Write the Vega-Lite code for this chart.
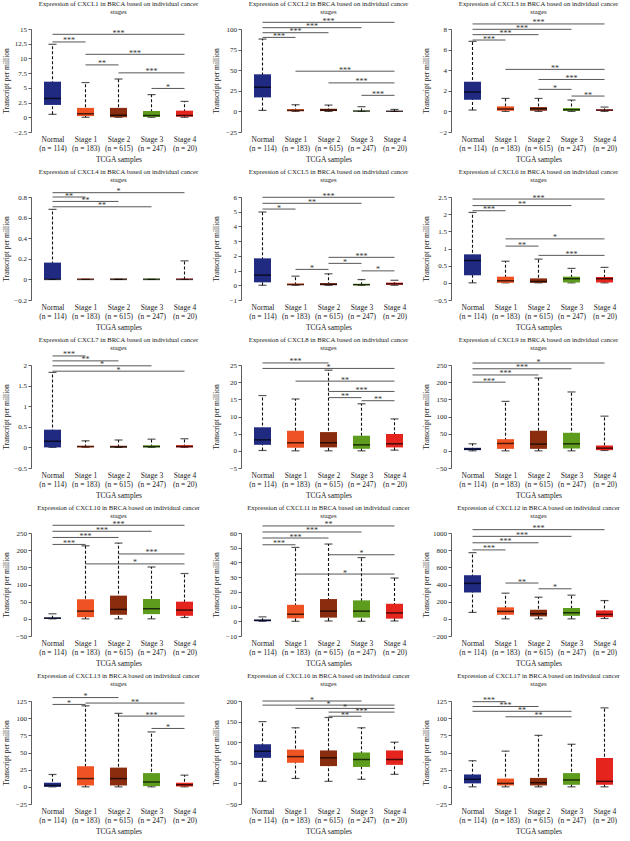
{
"$schema":"https://vega.github.io/schema/vega-lite/v6.json",
"padding":{"left":2,"top":0,"right":0,"bottom":0},
"columns":3,
"spacing":{"row":5,"column":6},
"datasets":{
"box":[
{"g":"CXCL1","s":0,"lo":0.5,"q1":2.1,"md":3.2,"q3":6.05,"hi":12.4},
{"g":"CXCL1","s":1,"lo":0,"q1":0.2,"md":0.6,"q3":1.6,"hi":5.9},
{"g":"CXCL1","s":2,"lo":0,"q1":0,"md":0.35,"q3":1.6,"hi":6.5},
{"g":"CXCL1","s":3,"lo":0,"q1":0.05,"md":0.3,"q3":1.07,"hi":3.85},
{"g":"CXCL1","s":4,"lo":0,"q1":0.1,"md":0.3,"q3":1.13,"hi":2.7},
{"g":"CXCL2","s":0,"lo":1.2,"q1":17,"md":29.3,"q3":45,"hi":87.8},
{"g":"CXCL2","s":1,"lo":0,"q1":0.3,"md":1.2,"q3":2.8,"hi":8.1},
{"g":"CXCL2","s":2,"lo":0,"q1":0.4,"md":1.6,"q3":3.2,"hi":7.7},
{"g":"CXCL2","s":3,"lo":0,"q1":0.1,"md":0.4,"q3":0.9,"hi":5.7},
{"g":"CXCL2","s":4,"lo":0,"q1":0.05,"md":0.2,"q3":0.5,"hi":2.4},
{"g":"CXCL3","s":0,"lo":0.13,"q1":1.13,"md":1.88,"q3":2.88,"hi":6.8},
{"g":"CXCL3","s":1,"lo":0,"q1":0.06,"md":0.23,"q3":0.49,"hi":1.26},
{"g":"CXCL3","s":2,"lo":0,"q1":0.06,"md":0.26,"q3":0.42,"hi":1.26},
{"g":"CXCL3","s":3,"lo":0,"q1":0.05,"md":0.16,"q3":0.32,"hi":1.1},
{"g":"CXCL3","s":4,"lo":0,"q1":0.05,"md":0.13,"q3":0.19,"hi":0.42},
{"g":"CXCL4","s":0,"lo":0,"q1":0,"md":0,"q3":0.163,"hi":0.68},
{"g":"CXCL4","s":1,"lo":0,"q1":0,"md":0,"q3":0.008,"hi":0},
{"g":"CXCL4","s":2,"lo":0,"q1":0,"md":0,"q3":0.008,"hi":0},
{"g":"CXCL4","s":3,"lo":0,"q1":0,"md":0,"q3":0.008,"hi":0},
{"g":"CXCL4","s":4,"lo":0,"q1":0,"md":0,"q3":0.008,"hi":0.18},
{"g":"CXCL5","s":0,"lo":0,"q1":0.2,"md":0.69,"q3":1.83,"hi":4.98},
{"g":"CXCL5","s":1,"lo":0,"q1":0.01,"md":0.05,"q3":0.12,"hi":0.62},
{"g":"CXCL5","s":2,"lo":0,"q1":0.01,"md":0.06,"q3":0.15,"hi":0.78},
{"g":"CXCL5","s":3,"lo":0,"q1":0,"md":0.04,"q3":0.1,"hi":0.39},
{"g":"CXCL5","s":4,"lo":0,"q1":0.03,"md":0.1,"q3":0.18,"hi":0.34},
{"g":"CXCL6","s":0,"lo":0,"q1":0.22,"md":0.65,"q3":0.83,"hi":2.05},
{"g":"CXCL6","s":1,"lo":0,"q1":0,"md":0.06,"q3":0.18,"hi":0.63},
{"g":"CXCL6","s":2,"lo":0,"q1":0,"md":0.04,"q3":0.13,"hi":0.69},
{"g":"CXCL6","s":3,"lo":0,"q1":0.01,"md":0.12,"q3":0.18,"hi":0.42},
{"g":"CXCL6","s":4,"lo":0,"q1":0.01,"md":0.12,"q3":0.17,"hi":0.45},
{"g":"CXCL7","s":0,"lo":0,"q1":0,"md":0.15,"q3":0.43,"hi":1.82},
{"g":"CXCL7","s":1,"lo":0,"q1":0,"md":0.02,"q3":0.04,"hi":0.16},
{"g":"CXCL7","s":2,"lo":0,"q1":0,"md":0.01,"q3":0.04,"hi":0.18},
{"g":"CXCL7","s":3,"lo":0,"q1":0,"md":0.02,"q3":0.05,"hi":0.2},
{"g":"CXCL7","s":4,"lo":0,"q1":0,"md":0.02,"q3":0.055,"hi":0.21},
{"g":"CXCL8","s":0,"lo":0.1,"q1":1.75,"md":3.2,"q3":6.85,"hi":16.1},
{"g":"CXCL8","s":1,"lo":0,"q1":0.9,"md":2.35,"q3":5.85,"hi":15.1},
{"g":"CXCL8","s":2,"lo":0,"q1":1.0,"md":2.35,"q3":5.46,"hi":23.5},
{"g":"CXCL8","s":3,"lo":0,"q1":0.6,"md":1.75,"q3":4.4,"hi":13.7},
{"g":"CXCL8","s":4,"lo":0.2,"q1":1.0,"md":2.05,"q3":4.9,"hi":9.3},
{"g":"CXCL9","s":0,"lo":0,"q1":2,"md":4.9,"q3":8.8,"hi":20.5},
{"g":"CXCL9","s":1,"lo":0,"q1":5.8,"md":21.4,"q3":34,"hi":144},
{"g":"CXCL9","s":2,"lo":0,"q1":5.8,"md":19.5,"q3":58.5,"hi":212},
{"g":"CXCL9","s":3,"lo":0,"q1":6.8,"md":20.5,"q3":52.6,"hi":171.5},
{"g":"CXCL9","s":4,"lo":1,"q1":2,"md":7.8,"q3":15.6,"hi":101},
{"g":"CXCL10","s":0,"lo":0,"q1":0,"md":2,"q3":3.9,"hi":14.7},
{"g":"CXCL10","s":1,"lo":0,"q1":4.9,"md":22.5,"q3":57,"hi":212.7},
{"g":"CXCL10","s":2,"lo":0,"q1":11.8,"md":27.5,"q3":67.6,"hi":220.6},
{"g":"CXCL10","s":3,"lo":0,"q1":13.7,"md":29.4,"q3":57.8,"hi":151},
{"g":"CXCL10","s":4,"lo":3.9,"q1":8.8,"md":25.5,"q3":50,"hi":132},
{"g":"CXCL11","s":0,"lo":0,"q1":0,"md":0.7,"q3":1.1,"hi":3},
{"g":"CXCL11","s":1,"lo":0,"q1":2,"md":4.8,"q3":11.2,"hi":50.2},
{"g":"CXCL11","s":2,"lo":0.2,"q1":2.5,"md":6.9,"q3":15.1,"hi":52.5},
{"g":"CXCL11","s":3,"lo":0,"q1":2.5,"md":6.9,"q3":14.2,"hi":43.3},
{"g":"CXCL11","s":4,"lo":0.2,"q1":1.8,"md":5.7,"q3":11.9,"hi":29.4},
{"g":"CXCL12","s":0,"lo":75,"q1":307,"md":413,"q3":508,"hi":771},
{"g":"CXCL12","s":1,"lo":0,"q1":47,"md":87,"q3":134,"hi":299},
{"g":"CXCL12","s":2,"lo":0,"q1":28,"md":59,"q3":106,"hi":252},
{"g":"CXCL12","s":3,"lo":0,"q1":35,"md":71,"q3":126,"hi":276},
{"g":"CXCL12","s":4,"lo":4,"q1":20,"md":51,"q3":98,"hi":213},
{"g":"CXCL13","s":0,"lo":0,"q1":0,"md":2,"q3":6,"hi":18},
{"g":"CXCL13","s":1,"lo":0,"q1":2,"md":12,"q3":30,"hi":118},
{"g":"CXCL13","s":2,"lo":0,"q1":2,"md":12,"q3":28,"hi":107},
{"g":"CXCL13","s":3,"lo":0,"q1":1,"md":7,"q3":20,"hi":80},
{"g":"CXCL13","s":4,"lo":0,"q1":0.5,"md":3,"q3":6,"hi":17},
{"g":"CXCL16","s":0,"lo":5,"q1":62,"md":78,"q3":95,"hi":150},
{"g":"CXCL16","s":1,"lo":12,"q1":50,"md":65,"q3":82,"hi":135},
{"g":"CXCL16","s":2,"lo":5,"q1":42,"md":62,"q3":80,"hi":160},
{"g":"CXCL16","s":3,"lo":10,"q1":40,"md":58,"q3":75,"hi":135},
{"g":"CXCL16","s":4,"lo":22,"q1":45,"md":58,"q3":80,"hi":100},
{"g":"CXCL17","s":0,"lo":0,"q1":5,"md":11,"q3":18,"hi":38},
{"g":"CXCL17","s":1,"lo":0,"q1":2,"md":5,"q3":12,"hi":52},
{"g":"CXCL17","s":2,"lo":0,"q1":2,"md":6,"q3":13,"hi":75},
{"g":"CXCL17","s":3,"lo":0,"q1":3,"md":10,"q3":20,"hi":62},
{"g":"CXCL17","s":4,"lo":0,"q1":3,"md":8,"q3":42,"hi":115}
],
"br":[
{"g":"CXCL1","a":0,"b":4,"y":14.1,"t":"***"},
{"g":"CXCL1","a":0,"b":1,"y":12.8,"t":"***"},
{"g":"CXCL1","a":1,"b":4,"y":10.7,"t":"***"},
{"g":"CXCL1","a":1,"b":2,"y":8.9,"t":"**"},
{"g":"CXCL1","a":2,"b":4,"y":7.55,"t":"***"},
{"g":"CXCL1","a":3,"b":4,"y":4.9,"t":"*"},
{"g":"CXCL2","a":0,"b":4,"y":108.1,"t":"***"},
{"g":"CXCL2","a":0,"b":3,"y":101.6,"t":"***"},
{"g":"CXCL2","a":0,"b":2,"y":95.5,"t":"***"},
{"g":"CXCL2","a":0,"b":1,"y":89.8,"t":"***"},
{"g":"CXCL2","a":1,"b":4,"y":48.8,"t":"***"},
{"g":"CXCL2","a":2,"b":4,"y":34.6,"t":"***"},
{"g":"CXCL2","a":3,"b":4,"y":19.5,"t":"***"},
{"g":"CXCL3","a":0,"b":4,"y":8.49,"t":"***"},
{"g":"CXCL3","a":0,"b":3,"y":7.97,"t":"***"},
{"g":"CXCL3","a":0,"b":2,"y":7.45,"t":"***"},
{"g":"CXCL3","a":0,"b":1,"y":6.93,"t":"***"},
{"g":"CXCL3","a":1,"b":4,"y":4.08,"t":"**"},
{"g":"CXCL3","a":2,"b":4,"y":3.1,"t":"***"},
{"g":"CXCL3","a":2,"b":3,"y":2.14,"t":"*"},
{"g":"CXCL3","a":3,"b":4,"y":1.49,"t":"**"},
{"g":"CXCL4","a":0,"b":4,"y":0.842,"t":"*"},
{"g":"CXCL4","a":0,"b":1,"y":0.8,"t":"**"},
{"g":"CXCL4","a":0,"b":2,"y":0.757,"t":"**"},
{"g":"CXCL4","a":0,"b":3,"y":0.705,"t":"**"},
{"g":"CXCL5","a":0,"b":4,"y":5.98,"t":"***"},
{"g":"CXCL5","a":0,"b":3,"y":5.57,"t":"**"},
{"g":"CXCL5","a":0,"b":1,"y":5.18,"t":"*"},
{"g":"CXCL5","a":2,"b":4,"y":1.9,"t":"***"},
{"g":"CXCL5","a":2,"b":3,"y":1.49,"t":"*"},
{"g":"CXCL5","a":1,"b":2,"y":1.08,"t":"*"},
{"g":"CXCL5","a":3,"b":4,"y":0.98,"t":"*"},
{"g":"CXCL6","a":0,"b":4,"y":2.44,"t":"***"},
{"g":"CXCL6","a":0,"b":3,"y":2.25,"t":"**"},
{"g":"CXCL6","a":0,"b":1,"y":2.1,"t":"***"},
{"g":"CXCL6","a":1,"b":4,"y":1.28,"t":"*"},
{"g":"CXCL6","a":1,"b":2,"y":1.07,"t":"**"},
{"g":"CXCL6","a":2,"b":4,"y":0.8,"t":"***"},
{"g":"CXCL7","a":0,"b":1,"y":2.22,"t":"***"},
{"g":"CXCL7","a":0,"b":2,"y":2.1,"t":"**"},
{"g":"CXCL7","a":0,"b":3,"y":1.98,"t":"*"},
{"g":"CXCL7","a":0,"b":4,"y":1.85,"t":"*"},
{"g":"CXCL8","a":0,"b":2,"y":25.6,"t":"***"},
{"g":"CXCL8","a":0,"b":4,"y":24.0,"t":"*"},
{"g":"CXCL8","a":1,"b":4,"y":20.3,"t":"**"},
{"g":"CXCL8","a":2,"b":4,"y":17.3,"t":"***"},
{"g":"CXCL8","a":2,"b":3,"y":15.5,"t":"**"},
{"g":"CXCL8","a":3,"b":4,"y":14.6,"t":"**"},
{"g":"CXCL9","a":0,"b":4,"y":255.8,"t":"*"},
{"g":"CXCL9","a":0,"b":3,"y":239,"t":"***"},
{"g":"CXCL9","a":0,"b":2,"y":221,"t":"***"},
{"g":"CXCL9","a":0,"b":1,"y":200,"t":"***"},
{"g":"CXCL10","a":0,"b":4,"y":272.5,"t":"***"},
{"g":"CXCL10","a":0,"b":3,"y":255,"t":"***"},
{"g":"CXCL10","a":0,"b":2,"y":237,"t":"***"},
{"g":"CXCL10","a":0,"b":1,"y":216.7,"t":"***"},
{"g":"CXCL10","a":2,"b":4,"y":189,"t":"***"},
{"g":"CXCL10","a":1,"b":4,"y":160,"t":"*"},
{"g":"CXCL11","a":0,"b":4,"y":64.8,"t":"**"},
{"g":"CXCL11","a":0,"b":3,"y":60.7,"t":"***"},
{"g":"CXCL11","a":0,"b":2,"y":56.6,"t":"***"},
{"g":"CXCL11","a":0,"b":1,"y":52,"t":"***"},
{"g":"CXCL11","a":2,"b":4,"y":45.2,"t":"*"},
{"g":"CXCL11","a":1,"b":4,"y":32.1,"t":"*"},
{"g":"CXCL12","a":0,"b":4,"y":1039,"t":"***"},
{"g":"CXCL12","a":0,"b":3,"y":961,"t":"***"},
{"g":"CXCL12","a":0,"b":2,"y":886,"t":"***"},
{"g":"CXCL12","a":0,"b":1,"y":803,"t":"***"},
{"g":"CXCL12","a":1,"b":2,"y":417,"t":"**"},
{"g":"CXCL12","a":2,"b":3,"y":350,"t":"*"},
{"g":"CXCL13","a":0,"b":2,"y":130,"t":"*"},
{"g":"CXCL13","a":0,"b":1,"y":120,"t":"*"},
{"g":"CXCL13","a":1,"b":4,"y":122,"t":"**"},
{"g":"CXCL13","a":2,"b":4,"y":103,"t":"***"},
{"g":"CXCL13","a":3,"b":4,"y":85,"t":"*"},
{"g":"CXCL16","a":0,"b":3,"y":200,"t":"*"},
{"g":"CXCL16","a":0,"b":4,"y":190,"t":"*"},
{"g":"CXCL16","a":1,"b":4,"y":182,"t":"*"},
{"g":"CXCL16","a":2,"b":4,"y":173,"t":"***"},
{"g":"CXCL16","a":2,"b":3,"y":163,"t":"**"},
{"g":"CXCL17","a":0,"b":1,"y":124,"t":"***"},
{"g":"CXCL17","a":0,"b":2,"y":117,"t":"***"},
{"g":"CXCL17","a":0,"b":3,"y":110,"t":"**"},
{"g":"CXCL17","a":1,"b":3,"y":102,"t":"**"}
]},
"concat":[
{"width":175,"height":117,"title":{"text":["Expression of CXCL1 in BRCA based on individual cancer","stages"]},"layer":[
{"data":{"name":"box"},"transform":[{"filter":"datum.g==='CXCL1'"}],"layer":[
{"mark":{"type":"rule","strokeDash":[3,2],"strokeWidth":1.1,"color":"#111"},"encoding":{"x":{"field":"s","type":"quantitative","scale":{"domain":[-0.5,4.5],"nice":false,"zero":false},"axis":{"values":[0,1,2,3,4],"labelExpr":"[['Normal','(n = 114)'],['Stage 1','(n = 183)'],['Stage 2','(n = 615)'],['Stage 3','(n = 247)'],['Stage 4','(n = 20)']][datum.value]","title":"TCGA samples"}},"y":{"field":"lo","type":"quantitative","scale":{"domain":[-2.5,15],"range":[117,14],"nice":false,"zero":false},"axis":{"values":[-2.5,0,2.5,5,7.5,10,12.5,15],"labelExpr":"format(datum.value,'~g')","labelOverlap":false,"tickCount":20,"title":"Transcript per million"}},"y2":{"field":"hi"}}},
{"mark":{"type":"tick","orient":"horizontal","size":8,"thickness":1.2,"color":"#111"},"encoding":{"x":{"field":"s","type":"quantitative"},"y":{"field":"hi","type":"quantitative"}}},
{"mark":{"type":"tick","orient":"horizontal","size":8,"thickness":1.2,"color":"#111"},"encoding":{"x":{"field":"s","type":"quantitative"},"y":{"field":"lo","type":"quantitative"}}},
{"mark":{"type":"bar","width":17},"encoding":{"x":{"field":"s","type":"quantitative"},"y":{"field":"q1","type":"quantitative"},"y2":{"field":"q3"},"color":{"field":"s","type":"nominal"}}},
{"mark":{"type":"tick","orient":"horizontal","size":17,"thickness":1.5,"color":"#000"},"encoding":{"x":{"field":"s","type":"quantitative"},"y":{"field":"md","type":"quantitative"}}}]},
{"data":{"name":"br"},"transform":[{"filter":"datum.g==='CXCL1'"},{"calculate":"(datum.a+datum.b)/2","as":"m"}],"layer":[
{"mark":{"type":"rule","strokeWidth":0.9,"color":"#444"},"encoding":{"x":{"field":"a","type":"quantitative"},"x2":{"field":"b"},"y":{"field":"y","type":"quantitative"}}},
{"mark":{"type":"text","fontSize":8,"dy":1.5,"baseline":"alphabetic","color":"#333"},"encoding":{"x":{"field":"m","type":"quantitative"},"y":{"field":"y","type":"quantitative"},"text":{"field":"t"}}}]}]},

{"width":175,"height":117,"title":{"text":["Expression of CXCL2 in BRCA based on individual cancer","stages"]},"layer":[
{"data":{"name":"box"},"transform":[{"filter":"datum.g==='CXCL2'"}],"layer":[
{"mark":{"type":"rule","strokeDash":[3,2],"strokeWidth":1.1,"color":"#111"},"encoding":{"x":{"field":"s","type":"quantitative","scale":{"domain":[-0.5,4.5],"nice":false,"zero":false},"axis":{"values":[0,1,2,3,4],"labelExpr":"[['Normal','(n = 114)'],['Stage 1','(n = 183)'],['Stage 2','(n = 615)'],['Stage 3','(n = 247)'],['Stage 4','(n = 20)']][datum.value]","title":"TCGA samples"}},"y":{"field":"lo","type":"quantitative","scale":{"domain":[-25,100],"range":[117,14],"nice":false,"zero":false},"axis":{"values":[-25,0,25,50,75,100],"labelExpr":"format(datum.value,'~g')","labelOverlap":false,"tickCount":20,"title":"Transcript per million"}},"y2":{"field":"hi"}}},
{"mark":{"type":"tick","orient":"horizontal","size":8,"thickness":1.2,"color":"#111"},"encoding":{"x":{"field":"s","type":"quantitative"},"y":{"field":"hi","type":"quantitative"}}},
{"mark":{"type":"tick","orient":"horizontal","size":8,"thickness":1.2,"color":"#111"},"encoding":{"x":{"field":"s","type":"quantitative"},"y":{"field":"lo","type":"quantitative"}}},
{"mark":{"type":"bar","width":17},"encoding":{"x":{"field":"s","type":"quantitative"},"y":{"field":"q1","type":"quantitative"},"y2":{"field":"q3"},"color":{"field":"s","type":"nominal"}}},
{"mark":{"type":"tick","orient":"horizontal","size":17,"thickness":1.5,"color":"#000"},"encoding":{"x":{"field":"s","type":"quantitative"},"y":{"field":"md","type":"quantitative"}}}]},
{"data":{"name":"br"},"transform":[{"filter":"datum.g==='CXCL2'"},{"calculate":"(datum.a+datum.b)/2","as":"m"}],"layer":[
{"mark":{"type":"rule","strokeWidth":0.9,"color":"#444"},"encoding":{"x":{"field":"a","type":"quantitative"},"x2":{"field":"b"},"y":{"field":"y","type":"quantitative"}}},
{"mark":{"type":"text","fontSize":8,"dy":1.5,"baseline":"alphabetic","color":"#333"},"encoding":{"x":{"field":"m","type":"quantitative"},"y":{"field":"y","type":"quantitative"},"text":{"field":"t"}}}]}]},

{"width":175,"height":117,"title":{"text":["Expression of CXCL3 in BRCA based on individual cancer","stages"]},"layer":[
{"data":{"name":"box"},"transform":[{"filter":"datum.g==='CXCL3'"}],"layer":[
{"mark":{"type":"rule","strokeDash":[3,2],"strokeWidth":1.1,"color":"#111"},"encoding":{"x":{"field":"s","type":"quantitative","scale":{"domain":[-0.5,4.5],"nice":false,"zero":false},"axis":{"values":[0,1,2,3,4],"labelExpr":"[['Normal','(n = 114)'],['Stage 1','(n = 183)'],['Stage 2','(n = 615)'],['Stage 3','(n = 247)'],['Stage 4','(n = 20)']][datum.value]","title":"TCGA samples"}},"y":{"field":"lo","type":"quantitative","scale":{"domain":[-2,8],"range":[117,14],"nice":false,"zero":false},"axis":{"values":[-2,0,2,4,6,8],"labelExpr":"format(datum.value,'~g')","labelOverlap":false,"tickCount":20,"title":"Transcript per million"}},"y2":{"field":"hi"}}},
{"mark":{"type":"tick","orient":"horizontal","size":8,"thickness":1.2,"color":"#111"},"encoding":{"x":{"field":"s","type":"quantitative"},"y":{"field":"hi","type":"quantitative"}}},
{"mark":{"type":"tick","orient":"horizontal","size":8,"thickness":1.2,"color":"#111"},"encoding":{"x":{"field":"s","type":"quantitative"},"y":{"field":"lo","type":"quantitative"}}},
{"mark":{"type":"bar","width":17},"encoding":{"x":{"field":"s","type":"quantitative"},"y":{"field":"q1","type":"quantitative"},"y2":{"field":"q3"},"color":{"field":"s","type":"nominal"}}},
{"mark":{"type":"tick","orient":"horizontal","size":17,"thickness":1.5,"color":"#000"},"encoding":{"x":{"field":"s","type":"quantitative"},"y":{"field":"md","type":"quantitative"}}}]},
{"data":{"name":"br"},"transform":[{"filter":"datum.g==='CXCL3'"},{"calculate":"(datum.a+datum.b)/2","as":"m"}],"layer":[
{"mark":{"type":"rule","strokeWidth":0.9,"color":"#444"},"encoding":{"x":{"field":"a","type":"quantitative"},"x2":{"field":"b"},"y":{"field":"y","type":"quantitative"}}},
{"mark":{"type":"text","fontSize":8,"dy":1.5,"baseline":"alphabetic","color":"#333"},"encoding":{"x":{"field":"m","type":"quantitative"},"y":{"field":"y","type":"quantitative"},"text":{"field":"t"}}}]}]},

{"width":175,"height":117,"title":{"text":["Expression of CXCL4 in BRCA based on individual cancer","stages"]},"layer":[
{"data":{"name":"box"},"transform":[{"filter":"datum.g==='CXCL4'"}],"layer":[
{"mark":{"type":"rule","strokeDash":[3,2],"strokeWidth":1.1,"color":"#111"},"encoding":{"x":{"field":"s","type":"quantitative","scale":{"domain":[-0.5,4.5],"nice":false,"zero":false},"axis":{"values":[0,1,2,3,4],"labelExpr":"[['Normal','(n = 114)'],['Stage 1','(n = 183)'],['Stage 2','(n = 615)'],['Stage 3','(n = 247)'],['Stage 4','(n = 20)']][datum.value]","title":"TCGA samples"}},"y":{"field":"lo","type":"quantitative","scale":{"domain":[-0.2,0.8],"range":[117,14],"nice":false,"zero":false},"axis":{"values":[-0.2,0,0.2,0.4,0.6,0.8],"labelExpr":"format(datum.value,'~g')","labelOverlap":false,"tickCount":20,"title":"Transcript per million"}},"y2":{"field":"hi"}}},
{"mark":{"type":"tick","orient":"horizontal","size":8,"thickness":1.2,"color":"#111"},"encoding":{"x":{"field":"s","type":"quantitative"},"y":{"field":"hi","type":"quantitative"}}},
{"mark":{"type":"tick","orient":"horizontal","size":8,"thickness":1.2,"color":"#111"},"encoding":{"x":{"field":"s","type":"quantitative"},"y":{"field":"lo","type":"quantitative"}}},
{"mark":{"type":"bar","width":17},"encoding":{"x":{"field":"s","type":"quantitative"},"y":{"field":"q1","type":"quantitative"},"y2":{"field":"q3"},"color":{"field":"s","type":"nominal"}}},
{"mark":{"type":"tick","orient":"horizontal","size":17,"thickness":1.5,"color":"#000"},"encoding":{"x":{"field":"s","type":"quantitative"},"y":{"field":"md","type":"quantitative"}}}]},
{"data":{"name":"br"},"transform":[{"filter":"datum.g==='CXCL4'"},{"calculate":"(datum.a+datum.b)/2","as":"m"}],"layer":[
{"mark":{"type":"rule","strokeWidth":0.9,"color":"#444"},"encoding":{"x":{"field":"a","type":"quantitative"},"x2":{"field":"b"},"y":{"field":"y","type":"quantitative"}}},
{"mark":{"type":"text","fontSize":8,"dy":1.5,"baseline":"alphabetic","color":"#333"},"encoding":{"x":{"field":"m","type":"quantitative"},"y":{"field":"y","type":"quantitative"},"text":{"field":"t"}}}]}]},

{"width":175,"height":117,"title":{"text":["Expression of CXCL5 in BRCA based on individual cancer","stages"]},"layer":[
{"data":{"name":"box"},"transform":[{"filter":"datum.g==='CXCL5'"}],"layer":[
{"mark":{"type":"rule","strokeDash":[3,2],"strokeWidth":1.1,"color":"#111"},"encoding":{"x":{"field":"s","type":"quantitative","scale":{"domain":[-0.5,4.5],"nice":false,"zero":false},"axis":{"values":[0,1,2,3,4],"labelExpr":"[['Normal','(n = 114)'],['Stage 1','(n = 183)'],['Stage 2','(n = 615)'],['Stage 3','(n = 247)'],['Stage 4','(n = 20)']][datum.value]","title":"TCGA samples"}},"y":{"field":"lo","type":"quantitative","scale":{"domain":[-1,6],"range":[117,14],"nice":false,"zero":false},"axis":{"values":[-1,0,1,2,3,4,5,6],"labelExpr":"format(datum.value,'~g')","labelOverlap":false,"tickCount":20,"title":"Transcript per million"}},"y2":{"field":"hi"}}},
{"mark":{"type":"tick","orient":"horizontal","size":8,"thickness":1.2,"color":"#111"},"encoding":{"x":{"field":"s","type":"quantitative"},"y":{"field":"hi","type":"quantitative"}}},
{"mark":{"type":"tick","orient":"horizontal","size":8,"thickness":1.2,"color":"#111"},"encoding":{"x":{"field":"s","type":"quantitative"},"y":{"field":"lo","type":"quantitative"}}},
{"mark":{"type":"bar","width":17},"encoding":{"x":{"field":"s","type":"quantitative"},"y":{"field":"q1","type":"quantitative"},"y2":{"field":"q3"},"color":{"field":"s","type":"nominal"}}},
{"mark":{"type":"tick","orient":"horizontal","size":17,"thickness":1.5,"color":"#000"},"encoding":{"x":{"field":"s","type":"quantitative"},"y":{"field":"md","type":"quantitative"}}}]},
{"data":{"name":"br"},"transform":[{"filter":"datum.g==='CXCL5'"},{"calculate":"(datum.a+datum.b)/2","as":"m"}],"layer":[
{"mark":{"type":"rule","strokeWidth":0.9,"color":"#444"},"encoding":{"x":{"field":"a","type":"quantitative"},"x2":{"field":"b"},"y":{"field":"y","type":"quantitative"}}},
{"mark":{"type":"text","fontSize":8,"dy":1.5,"baseline":"alphabetic","color":"#333"},"encoding":{"x":{"field":"m","type":"quantitative"},"y":{"field":"y","type":"quantitative"},"text":{"field":"t"}}}]}]},

{"width":175,"height":117,"title":{"text":["Expression of CXCL6 in BRCA based on individual cancer","stages"]},"layer":[
{"data":{"name":"box"},"transform":[{"filter":"datum.g==='CXCL6'"}],"layer":[
{"mark":{"type":"rule","strokeDash":[3,2],"strokeWidth":1.1,"color":"#111"},"encoding":{"x":{"field":"s","type":"quantitative","scale":{"domain":[-0.5,4.5],"nice":false,"zero":false},"axis":{"values":[0,1,2,3,4],"labelExpr":"[['Normal','(n = 114)'],['Stage 1','(n = 183)'],['Stage 2','(n = 615)'],['Stage 3','(n = 247)'],['Stage 4','(n = 20)']][datum.value]","title":"TCGA samples"}},"y":{"field":"lo","type":"quantitative","scale":{"domain":[-0.5,2.5],"range":[117,14],"nice":false,"zero":false},"axis":{"values":[-0.5,0,0.5,1,1.5,2,2.5],"labelExpr":"format(datum.value,'~g')","labelOverlap":false,"tickCount":20,"title":"Transcript per million"}},"y2":{"field":"hi"}}},
{"mark":{"type":"tick","orient":"horizontal","size":8,"thickness":1.2,"color":"#111"},"encoding":{"x":{"field":"s","type":"quantitative"},"y":{"field":"hi","type":"quantitative"}}},
{"mark":{"type":"tick","orient":"horizontal","size":8,"thickness":1.2,"color":"#111"},"encoding":{"x":{"field":"s","type":"quantitative"},"y":{"field":"lo","type":"quantitative"}}},
{"mark":{"type":"bar","width":17},"encoding":{"x":{"field":"s","type":"quantitative"},"y":{"field":"q1","type":"quantitative"},"y2":{"field":"q3"},"color":{"field":"s","type":"nominal"}}},
{"mark":{"type":"tick","orient":"horizontal","size":17,"thickness":1.5,"color":"#000"},"encoding":{"x":{"field":"s","type":"quantitative"},"y":{"field":"md","type":"quantitative"}}}]},
{"data":{"name":"br"},"transform":[{"filter":"datum.g==='CXCL6'"},{"calculate":"(datum.a+datum.b)/2","as":"m"}],"layer":[
{"mark":{"type":"rule","strokeWidth":0.9,"color":"#444"},"encoding":{"x":{"field":"a","type":"quantitative"},"x2":{"field":"b"},"y":{"field":"y","type":"quantitative"}}},
{"mark":{"type":"text","fontSize":8,"dy":1.5,"baseline":"alphabetic","color":"#333"},"encoding":{"x":{"field":"m","type":"quantitative"},"y":{"field":"y","type":"quantitative"},"text":{"field":"t"}}}]}]},

{"width":175,"height":117,"title":{"text":["Expression of CXCL7 in BRCA based on individual cancer","stages"]},"layer":[
{"data":{"name":"box"},"transform":[{"filter":"datum.g==='CXCL7'"}],"layer":[
{"mark":{"type":"rule","strokeDash":[3,2],"strokeWidth":1.1,"color":"#111"},"encoding":{"x":{"field":"s","type":"quantitative","scale":{"domain":[-0.5,4.5],"nice":false,"zero":false},"axis":{"values":[0,1,2,3,4],"labelExpr":"[['Normal','(n = 114)'],['Stage 1','(n = 183)'],['Stage 2','(n = 615)'],['Stage 3','(n = 247)'],['Stage 4','(n = 20)']][datum.value]","title":"TCGA samples"}},"y":{"field":"lo","type":"quantitative","scale":{"domain":[-0.5,2],"range":[117,14],"nice":false,"zero":false},"axis":{"values":[-0.5,0,0.5,1,1.5,2],"labelExpr":"format(datum.value,'~g')","labelOverlap":false,"tickCount":20,"title":"Transcript per million"}},"y2":{"field":"hi"}}},
{"mark":{"type":"tick","orient":"horizontal","size":8,"thickness":1.2,"color":"#111"},"encoding":{"x":{"field":"s","type":"quantitative"},"y":{"field":"hi","type":"quantitative"}}},
{"mark":{"type":"tick","orient":"horizontal","size":8,"thickness":1.2,"color":"#111"},"encoding":{"x":{"field":"s","type":"quantitative"},"y":{"field":"lo","type":"quantitative"}}},
{"mark":{"type":"bar","width":17},"encoding":{"x":{"field":"s","type":"quantitative"},"y":{"field":"q1","type":"quantitative"},"y2":{"field":"q3"},"color":{"field":"s","type":"nominal"}}},
{"mark":{"type":"tick","orient":"horizontal","size":17,"thickness":1.5,"color":"#000"},"encoding":{"x":{"field":"s","type":"quantitative"},"y":{"field":"md","type":"quantitative"}}}]},
{"data":{"name":"br"},"transform":[{"filter":"datum.g==='CXCL7'"},{"calculate":"(datum.a+datum.b)/2","as":"m"}],"layer":[
{"mark":{"type":"rule","strokeWidth":0.9,"color":"#444"},"encoding":{"x":{"field":"a","type":"quantitative"},"x2":{"field":"b"},"y":{"field":"y","type":"quantitative"}}},
{"mark":{"type":"text","fontSize":8,"dy":1.5,"baseline":"alphabetic","color":"#333"},"encoding":{"x":{"field":"m","type":"quantitative"},"y":{"field":"y","type":"quantitative"},"text":{"field":"t"}}}]}]},

{"width":175,"height":117,"title":{"text":["Expression of CXCL8 in BRCA based on individual cancer","stages"]},"layer":[
{"data":{"name":"box"},"transform":[{"filter":"datum.g==='CXCL8'"}],"layer":[
{"mark":{"type":"rule","strokeDash":[3,2],"strokeWidth":1.1,"color":"#111"},"encoding":{"x":{"field":"s","type":"quantitative","scale":{"domain":[-0.5,4.5],"nice":false,"zero":false},"axis":{"values":[0,1,2,3,4],"labelExpr":"[['Normal','(n = 114)'],['Stage 1','(n = 183)'],['Stage 2','(n = 615)'],['Stage 3','(n = 247)'],['Stage 4','(n = 20)']][datum.value]","title":"TCGA samples"}},"y":{"field":"lo","type":"quantitative","scale":{"domain":[-5,25],"range":[117,14],"nice":false,"zero":false},"axis":{"values":[-5,0,5,10,15,20,25],"labelExpr":"format(datum.value,'~g')","labelOverlap":false,"tickCount":20,"title":"Transcript per million"}},"y2":{"field":"hi"}}},
{"mark":{"type":"tick","orient":"horizontal","size":8,"thickness":1.2,"color":"#111"},"encoding":{"x":{"field":"s","type":"quantitative"},"y":{"field":"hi","type":"quantitative"}}},
{"mark":{"type":"tick","orient":"horizontal","size":8,"thickness":1.2,"color":"#111"},"encoding":{"x":{"field":"s","type":"quantitative"},"y":{"field":"lo","type":"quantitative"}}},
{"mark":{"type":"bar","width":17},"encoding":{"x":{"field":"s","type":"quantitative"},"y":{"field":"q1","type":"quantitative"},"y2":{"field":"q3"},"color":{"field":"s","type":"nominal"}}},
{"mark":{"type":"tick","orient":"horizontal","size":17,"thickness":1.5,"color":"#000"},"encoding":{"x":{"field":"s","type":"quantitative"},"y":{"field":"md","type":"quantitative"}}}]},
{"data":{"name":"br"},"transform":[{"filter":"datum.g==='CXCL8'"},{"calculate":"(datum.a+datum.b)/2","as":"m"}],"layer":[
{"mark":{"type":"rule","strokeWidth":0.9,"color":"#444"},"encoding":{"x":{"field":"a","type":"quantitative"},"x2":{"field":"b"},"y":{"field":"y","type":"quantitative"}}},
{"mark":{"type":"text","fontSize":8,"dy":1.5,"baseline":"alphabetic","color":"#333"},"encoding":{"x":{"field":"m","type":"quantitative"},"y":{"field":"y","type":"quantitative"},"text":{"field":"t"}}}]}]},

{"width":175,"height":117,"title":{"text":["Expression of CXCL9 in BRCA based on individual cancer","stages"]},"layer":[
{"data":{"name":"box"},"transform":[{"filter":"datum.g==='CXCL9'"}],"layer":[
{"mark":{"type":"rule","strokeDash":[3,2],"strokeWidth":1.1,"color":"#111"},"encoding":{"x":{"field":"s","type":"quantitative","scale":{"domain":[-0.5,4.5],"nice":false,"zero":false},"axis":{"values":[0,1,2,3,4],"labelExpr":"[['Normal','(n = 114)'],['Stage 1','(n = 183)'],['Stage 2','(n = 615)'],['Stage 3','(n = 247)'],['Stage 4','(n = 20)']][datum.value]","title":"TCGA samples"}},"y":{"field":"lo","type":"quantitative","scale":{"domain":[-50,250],"range":[117,14],"nice":false,"zero":false},"axis":{"values":[-50,0,50,100,150,200,250],"labelExpr":"format(datum.value,'~g')","labelOverlap":false,"tickCount":20,"title":"Transcript per million"}},"y2":{"field":"hi"}}},
{"mark":{"type":"tick","orient":"horizontal","size":8,"thickness":1.2,"color":"#111"},"encoding":{"x":{"field":"s","type":"quantitative"},"y":{"field":"hi","type":"quantitative"}}},
{"mark":{"type":"tick","orient":"horizontal","size":8,"thickness":1.2,"color":"#111"},"encoding":{"x":{"field":"s","type":"quantitative"},"y":{"field":"lo","type":"quantitative"}}},
{"mark":{"type":"bar","width":17},"encoding":{"x":{"field":"s","type":"quantitative"},"y":{"field":"q1","type":"quantitative"},"y2":{"field":"q3"},"color":{"field":"s","type":"nominal"}}},
{"mark":{"type":"tick","orient":"horizontal","size":17,"thickness":1.5,"color":"#000"},"encoding":{"x":{"field":"s","type":"quantitative"},"y":{"field":"md","type":"quantitative"}}}]},
{"data":{"name":"br"},"transform":[{"filter":"datum.g==='CXCL9'"},{"calculate":"(datum.a+datum.b)/2","as":"m"}],"layer":[
{"mark":{"type":"rule","strokeWidth":0.9,"color":"#444"},"encoding":{"x":{"field":"a","type":"quantitative"},"x2":{"field":"b"},"y":{"field":"y","type":"quantitative"}}},
{"mark":{"type":"text","fontSize":8,"dy":1.5,"baseline":"alphabetic","color":"#333"},"encoding":{"x":{"field":"m","type":"quantitative"},"y":{"field":"y","type":"quantitative"},"text":{"field":"t"}}}]}]},

{"width":175,"height":117,"title":{"text":["Expression of CXCL10 in BRCA based on individual cancer","stages"]},"layer":[
{"data":{"name":"box"},"transform":[{"filter":"datum.g==='CXCL10'"}],"layer":[
{"mark":{"type":"rule","strokeDash":[3,2],"strokeWidth":1.1,"color":"#111"},"encoding":{"x":{"field":"s","type":"quantitative","scale":{"domain":[-0.5,4.5],"nice":false,"zero":false},"axis":{"values":[0,1,2,3,4],"labelExpr":"[['Normal','(n = 114)'],['Stage 1','(n = 183)'],['Stage 2','(n = 615)'],['Stage 3','(n = 247)'],['Stage 4','(n = 20)']][datum.value]","title":"TCGA samples"}},"y":{"field":"lo","type":"quantitative","scale":{"domain":[-50,250],"range":[117,14],"nice":false,"zero":false},"axis":{"values":[-50,0,50,100,150,200,250],"labelExpr":"format(datum.value,'~g')","labelOverlap":false,"tickCount":20,"title":"Transcript per million"}},"y2":{"field":"hi"}}},
{"mark":{"type":"tick","orient":"horizontal","size":8,"thickness":1.2,"color":"#111"},"encoding":{"x":{"field":"s","type":"quantitative"},"y":{"field":"hi","type":"quantitative"}}},
{"mark":{"type":"tick","orient":"horizontal","size":8,"thickness":1.2,"color":"#111"},"encoding":{"x":{"field":"s","type":"quantitative"},"y":{"field":"lo","type":"quantitative"}}},
{"mark":{"type":"bar","width":17},"encoding":{"x":{"field":"s","type":"quantitative"},"y":{"field":"q1","type":"quantitative"},"y2":{"field":"q3"},"color":{"field":"s","type":"nominal"}}},
{"mark":{"type":"tick","orient":"horizontal","size":17,"thickness":1.5,"color":"#000"},"encoding":{"x":{"field":"s","type":"quantitative"},"y":{"field":"md","type":"quantitative"}}}]},
{"data":{"name":"br"},"transform":[{"filter":"datum.g==='CXCL10'"},{"calculate":"(datum.a+datum.b)/2","as":"m"}],"layer":[
{"mark":{"type":"rule","strokeWidth":0.9,"color":"#444"},"encoding":{"x":{"field":"a","type":"quantitative"},"x2":{"field":"b"},"y":{"field":"y","type":"quantitative"}}},
{"mark":{"type":"text","fontSize":8,"dy":1.5,"baseline":"alphabetic","color":"#333"},"encoding":{"x":{"field":"m","type":"quantitative"},"y":{"field":"y","type":"quantitative"},"text":{"field":"t"}}}]}]},

{"width":175,"height":117,"title":{"text":["Expression of CXCL11 in BRCA based on individual cancer","stages"]},"layer":[
{"data":{"name":"box"},"transform":[{"filter":"datum.g==='CXCL11'"}],"layer":[
{"mark":{"type":"rule","strokeDash":[3,2],"strokeWidth":1.1,"color":"#111"},"encoding":{"x":{"field":"s","type":"quantitative","scale":{"domain":[-0.5,4.5],"nice":false,"zero":false},"axis":{"values":[0,1,2,3,4],"labelExpr":"[['Normal','(n = 114)'],['Stage 1','(n = 183)'],['Stage 2','(n = 615)'],['Stage 3','(n = 247)'],['Stage 4','(n = 20)']][datum.value]","title":"TCGA samples"}},"y":{"field":"lo","type":"quantitative","scale":{"domain":[-10,60],"range":[117,14],"nice":false,"zero":false},"axis":{"values":[-10,0,10,20,30,40,50,60],"labelExpr":"format(datum.value,'~g')","labelOverlap":false,"tickCount":20,"title":"Transcript per million"}},"y2":{"field":"hi"}}},
{"mark":{"type":"tick","orient":"horizontal","size":8,"thickness":1.2,"color":"#111"},"encoding":{"x":{"field":"s","type":"quantitative"},"y":{"field":"hi","type":"quantitative"}}},
{"mark":{"type":"tick","orient":"horizontal","size":8,"thickness":1.2,"color":"#111"},"encoding":{"x":{"field":"s","type":"quantitative"},"y":{"field":"lo","type":"quantitative"}}},
{"mark":{"type":"bar","width":17},"encoding":{"x":{"field":"s","type":"quantitative"},"y":{"field":"q1","type":"quantitative"},"y2":{"field":"q3"},"color":{"field":"s","type":"nominal"}}},
{"mark":{"type":"tick","orient":"horizontal","size":17,"thickness":1.5,"color":"#000"},"encoding":{"x":{"field":"s","type":"quantitative"},"y":{"field":"md","type":"quantitative"}}}]},
{"data":{"name":"br"},"transform":[{"filter":"datum.g==='CXCL11'"},{"calculate":"(datum.a+datum.b)/2","as":"m"}],"layer":[
{"mark":{"type":"rule","strokeWidth":0.9,"color":"#444"},"encoding":{"x":{"field":"a","type":"quantitative"},"x2":{"field":"b"},"y":{"field":"y","type":"quantitative"}}},
{"mark":{"type":"text","fontSize":8,"dy":1.5,"baseline":"alphabetic","color":"#333"},"encoding":{"x":{"field":"m","type":"quantitative"},"y":{"field":"y","type":"quantitative"},"text":{"field":"t"}}}]}]},

{"width":175,"height":117,"title":{"text":["Expression of CXCL12 in BRCA based on individual cancer","stages"]},"layer":[
{"data":{"name":"box"},"transform":[{"filter":"datum.g==='CXCL12'"}],"layer":[
{"mark":{"type":"rule","strokeDash":[3,2],"strokeWidth":1.1,"color":"#111"},"encoding":{"x":{"field":"s","type":"quantitative","scale":{"domain":[-0.5,4.5],"nice":false,"zero":false},"axis":{"values":[0,1,2,3,4],"labelExpr":"[['Normal','(n = 114)'],['Stage 1','(n = 183)'],['Stage 2','(n = 615)'],['Stage 3','(n = 247)'],['Stage 4','(n = 20)']][datum.value]","title":"TCGA samples"}},"y":{"field":"lo","type":"quantitative","scale":{"domain":[-200,1000],"range":[117,14],"nice":false,"zero":false},"axis":{"values":[-200,0,200,400,600,800,1000],"labelExpr":"format(datum.value,'~g')","labelOverlap":false,"tickCount":20,"title":"Transcript per million"}},"y2":{"field":"hi"}}},
{"mark":{"type":"tick","orient":"horizontal","size":8,"thickness":1.2,"color":"#111"},"encoding":{"x":{"field":"s","type":"quantitative"},"y":{"field":"hi","type":"quantitative"}}},
{"mark":{"type":"tick","orient":"horizontal","size":8,"thickness":1.2,"color":"#111"},"encoding":{"x":{"field":"s","type":"quantitative"},"y":{"field":"lo","type":"quantitative"}}},
{"mark":{"type":"bar","width":17},"encoding":{"x":{"field":"s","type":"quantitative"},"y":{"field":"q1","type":"quantitative"},"y2":{"field":"q3"},"color":{"field":"s","type":"nominal"}}},
{"mark":{"type":"tick","orient":"horizontal","size":17,"thickness":1.5,"color":"#000"},"encoding":{"x":{"field":"s","type":"quantitative"},"y":{"field":"md","type":"quantitative"}}}]},
{"data":{"name":"br"},"transform":[{"filter":"datum.g==='CXCL12'"},{"calculate":"(datum.a+datum.b)/2","as":"m"}],"layer":[
{"mark":{"type":"rule","strokeWidth":0.9,"color":"#444"},"encoding":{"x":{"field":"a","type":"quantitative"},"x2":{"field":"b"},"y":{"field":"y","type":"quantitative"}}},
{"mark":{"type":"text","fontSize":8,"dy":1.5,"baseline":"alphabetic","color":"#333"},"encoding":{"x":{"field":"m","type":"quantitative"},"y":{"field":"y","type":"quantitative"},"text":{"field":"t"}}}]}]},

{"width":175,"height":117,"title":{"text":["Expression of CXCL13 in BRCA based on individual cancer","stages"]},"layer":[
{"data":{"name":"box"},"transform":[{"filter":"datum.g==='CXCL13'"}],"layer":[
{"mark":{"type":"rule","strokeDash":[3,2],"strokeWidth":1.1,"color":"#111"},"encoding":{"x":{"field":"s","type":"quantitative","scale":{"domain":[-0.5,4.5],"nice":false,"zero":false},"axis":{"values":[0,1,2,3,4],"labelExpr":"[['Normal','(n = 114)'],['Stage 1','(n = 183)'],['Stage 2','(n = 615)'],['Stage 3','(n = 247)'],['Stage 4','(n = 20)']][datum.value]","title":"TCGA samples"}},"y":{"field":"lo","type":"quantitative","scale":{"domain":[-25,125],"range":[117,14],"nice":false,"zero":false},"axis":{"values":[-25,0,25,50,75,100,125],"labelExpr":"format(datum.value,'~g')","labelOverlap":false,"tickCount":20,"title":"Transcript per million"}},"y2":{"field":"hi"}}},
{"mark":{"type":"tick","orient":"horizontal","size":8,"thickness":1.2,"color":"#111"},"encoding":{"x":{"field":"s","type":"quantitative"},"y":{"field":"hi","type":"quantitative"}}},
{"mark":{"type":"tick","orient":"horizontal","size":8,"thickness":1.2,"color":"#111"},"encoding":{"x":{"field":"s","type":"quantitative"},"y":{"field":"lo","type":"quantitative"}}},
{"mark":{"type":"bar","width":17},"encoding":{"x":{"field":"s","type":"quantitative"},"y":{"field":"q1","type":"quantitative"},"y2":{"field":"q3"},"color":{"field":"s","type":"nominal"}}},
{"mark":{"type":"tick","orient":"horizontal","size":17,"thickness":1.5,"color":"#000"},"encoding":{"x":{"field":"s","type":"quantitative"},"y":{"field":"md","type":"quantitative"}}}]},
{"data":{"name":"br"},"transform":[{"filter":"datum.g==='CXCL13'"},{"calculate":"(datum.a+datum.b)/2","as":"m"}],"layer":[
{"mark":{"type":"rule","strokeWidth":0.9,"color":"#444"},"encoding":{"x":{"field":"a","type":"quantitative"},"x2":{"field":"b"},"y":{"field":"y","type":"quantitative"}}},
{"mark":{"type":"text","fontSize":8,"dy":1.5,"baseline":"alphabetic","color":"#333"},"encoding":{"x":{"field":"m","type":"quantitative"},"y":{"field":"y","type":"quantitative"},"text":{"field":"t"}}}]}]},

{"width":175,"height":117,"title":{"text":["Expression of CXCL16 in BRCA based on individual cancer","stages"]},"layer":[
{"data":{"name":"box"},"transform":[{"filter":"datum.g==='CXCL16'"}],"layer":[
{"mark":{"type":"rule","strokeDash":[3,2],"strokeWidth":1.1,"color":"#111"},"encoding":{"x":{"field":"s","type":"quantitative","scale":{"domain":[-0.5,4.5],"nice":false,"zero":false},"axis":{"values":[0,1,2,3,4],"labelExpr":"[['Normal','(n = 114)'],['Stage 1','(n = 183)'],['Stage 2','(n = 615)'],['Stage 3','(n = 247)'],['Stage 4','(n = 20)']][datum.value]","title":"TCGA samples"}},"y":{"field":"lo","type":"quantitative","scale":{"domain":[-50,200],"range":[117,14],"nice":false,"zero":false},"axis":{"values":[-50,0,50,100,150,200],"labelExpr":"format(datum.value,'~g')","labelOverlap":false,"tickCount":20,"title":"Transcript per million"}},"y2":{"field":"hi"}}},
{"mark":{"type":"tick","orient":"horizontal","size":8,"thickness":1.2,"color":"#111"},"encoding":{"x":{"field":"s","type":"quantitative"},"y":{"field":"hi","type":"quantitative"}}},
{"mark":{"type":"tick","orient":"horizontal","size":8,"thickness":1.2,"color":"#111"},"encoding":{"x":{"field":"s","type":"quantitative"},"y":{"field":"lo","type":"quantitative"}}},
{"mark":{"type":"bar","width":17},"encoding":{"x":{"field":"s","type":"quantitative"},"y":{"field":"q1","type":"quantitative"},"y2":{"field":"q3"},"color":{"field":"s","type":"nominal"}}},
{"mark":{"type":"tick","orient":"horizontal","size":17,"thickness":1.5,"color":"#000"},"encoding":{"x":{"field":"s","type":"quantitative"},"y":{"field":"md","type":"quantitative"}}}]},
{"data":{"name":"br"},"transform":[{"filter":"datum.g==='CXCL16'"},{"calculate":"(datum.a+datum.b)/2","as":"m"}],"layer":[
{"mark":{"type":"rule","strokeWidth":0.9,"color":"#444"},"encoding":{"x":{"field":"a","type":"quantitative"},"x2":{"field":"b"},"y":{"field":"y","type":"quantitative"}}},
{"mark":{"type":"text","fontSize":8,"dy":1.5,"baseline":"alphabetic","color":"#333"},"encoding":{"x":{"field":"m","type":"quantitative"},"y":{"field":"y","type":"quantitative"},"text":{"field":"t"}}}]}]},

{"width":175,"height":117,"title":{"text":["Expression of CXCL17 in BRCA based on individual cancer","stages"]},"layer":[
{"data":{"name":"box"},"transform":[{"filter":"datum.g==='CXCL17'"}],"layer":[
{"mark":{"type":"rule","strokeDash":[3,2],"strokeWidth":1.1,"color":"#111"},"encoding":{"x":{"field":"s","type":"quantitative","scale":{"domain":[-0.5,4.5],"nice":false,"zero":false},"axis":{"values":[0,1,2,3,4],"labelExpr":"[['Normal','(n = 114)'],['Stage 1','(n = 183)'],['Stage 2','(n = 615)'],['Stage 3','(n = 247)'],['Stage 4','(n = 20)']][datum.value]","title":"TCGA samples"}},"y":{"field":"lo","type":"quantitative","scale":{"domain":[-25,125],"range":[117,14],"nice":false,"zero":false},"axis":{"values":[-25,0,25,50,75,100,125],"labelExpr":"format(datum.value,'~g')","labelOverlap":false,"tickCount":20,"title":"Transcript per million"}},"y2":{"field":"hi"}}},
{"mark":{"type":"tick","orient":"horizontal","size":8,"thickness":1.2,"color":"#111"},"encoding":{"x":{"field":"s","type":"quantitative"},"y":{"field":"hi","type":"quantitative"}}},
{"mark":{"type":"tick","orient":"horizontal","size":8,"thickness":1.2,"color":"#111"},"encoding":{"x":{"field":"s","type":"quantitative"},"y":{"field":"lo","type":"quantitative"}}},
{"mark":{"type":"bar","width":17},"encoding":{"x":{"field":"s","type":"quantitative"},"y":{"field":"q1","type":"quantitative"},"y2":{"field":"q3"},"color":{"field":"s","type":"nominal"}}},
{"mark":{"type":"tick","orient":"horizontal","size":17,"thickness":1.5,"color":"#000"},"encoding":{"x":{"field":"s","type":"quantitative"},"y":{"field":"md","type":"quantitative"}}}]},
{"data":{"name":"br"},"transform":[{"filter":"datum.g==='CXCL17'"},{"calculate":"(datum.a+datum.b)/2","as":"m"}],"layer":[
{"mark":{"type":"rule","strokeWidth":0.9,"color":"#444"},"encoding":{"x":{"field":"a","type":"quantitative"},"x2":{"field":"b"},"y":{"field":"y","type":"quantitative"}}},
{"mark":{"type":"text","fontSize":8,"dy":1.5,"baseline":"alphabetic","color":"#333"},"encoding":{"x":{"field":"m","type":"quantitative"},"y":{"field":"y","type":"quantitative"},"text":{"field":"t"}}}]}]}
],
"config":{
"view":{"stroke":null},
"font":"Liberation Serif",
"legend":{"disable":true},
"range":{"category":["#1f2a80","#f05323","#8a2c0e","#5d9c1c","#e5241d"]},
"axis":{"grid":false,"labelFont":"Liberation Serif","titleFont":"Liberation Serif","titleFontWeight":"normal","labelColor":"#222","titleColor":"#222","domainColor":"#333","tickColor":"#333","labelFontSize":7,"titleFontSize":7.5},
"axisY":{"tickSize":3,"labelPadding":1.5,"minExtent":18,"maxExtent":18,"titlePadding":3,"domainWidth":0.8,"tickWidth":0.8,"labelOverlap":false},
"axisX":{"domain":false,"ticks":false,"labelFontSize":7.5,"labelPadding":3,"labelLineHeight":9.5,"titlePadding":3,"labelOverlap":false,"labelFlush":false},
"title":{"font":"Liberation Serif","fontSize":6.7,"fontWeight":"normal","color":"#222","anchor":"middle","frame":"group","offset":-1,"lineHeight":8.5}
}
}
